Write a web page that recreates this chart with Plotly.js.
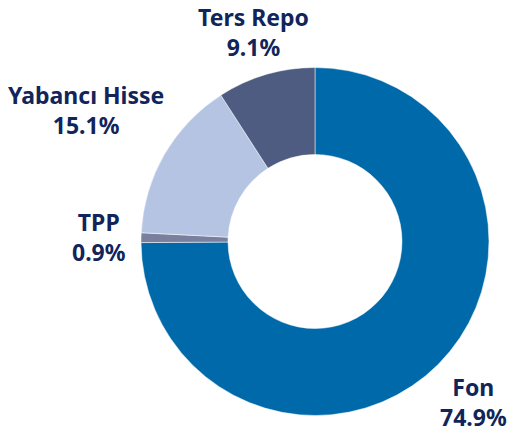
<!DOCTYPE html>
<html>
<head>
<meta charset="utf-8">
<script src="https://cdn.plot.ly/plotly-3.0.1.min.js"></script>
<style>html,body{margin:0;padding:0;background:#fff;}#chart{width:507px;height:433px;}</style>
</head>
<body>
<div id="chart"></div>
<script>
const categories = ["Fon", "TPP", "Yabancı Hisse", "Ters Repo"];
const values = [74.9, 0.9, 15.1, 9.1];
const colors = ["#0069AA", "#7A7F9E", "#B4C4E2", "#4D5C80"];

const W = 507, H = 433;
// label block centre positions in pixels
const labelPos = {
  "Fon": [473, 402],
  "TPP": [99, 237],
  "Yabancı Hisse": [86, 110],
  "Ters Repo": [253, 32]
};

const total = values.reduce((a, b) => a + b, 0);
const annotations = [];
const fnt = {family: "Noto Sans, sans-serif", size: 23, color: "#11255A", weight: 700};
categories.forEach((c, i) => {
  const pct = (values[i] / total * 100).toFixed(1) + "%";
  const p = labelPos[c];
  annotations.push({xref: "paper", yref: "paper", x: p[0] / W, y: 1 - p[1] / H,
    xanchor: "center", yanchor: "middle", align: "center", showarrow: false,
    text: "<b>" + c + "</b><br><b>" + pct + "</b>", font: fnt});
});

const cx = 315, cy = 241.5, R = 174;
const trace = {
  type: "pie",
  labels: categories,
  values: values,
  hole: 0.5,
  sort: false,
  direction: "clockwise",
  rotation: 0,
  textinfo: "none",
  marker: {colors: colors, line: {color: "#ffffff", width: 0.5}},
  domain: {x: [(cx - R) / W, (cx + R) / W], y: [1 - (cy + R) / H, 1 - (cy - R) / H]},
  showlegend: false,
  hoverinfo: "label+percent"
};

Plotly.newPlot("chart", [trace], {
  width: W, height: H,
  margin: {l: 0, r: 0, t: 0, b: 0},
  paper_bgcolor: "#ffffff",
  showlegend: false,
  annotations: annotations
}, {displayModeBar: false, staticPlot: true});
</script>
</body>
</html>
